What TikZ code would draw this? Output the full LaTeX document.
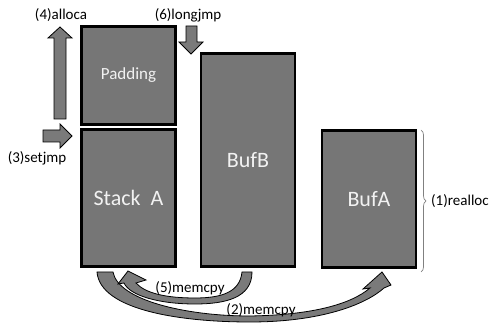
\documentclass[tikz,border=0pt]{standalone}
\usepackage{fontspec}
\setmainfont{Carlito}
\usetikzlibrary{decorations.pathreplacing}
\definecolor{boxgray}{HTML}{767676}
\definecolor{arrgray}{HTML}{7A7A7A}
\definecolor{boxtext}{HTML}{F2F2F2}
\tikzset{
  membox/.style={draw=black, line width=2.4pt, fill=boxgray, text=boxtext, inner sep=0pt, minimum width=94pt},
  blockarrow/.style={draw=black, line width=0.8pt, fill=arrgray, line join=miter},
  lbl/.style={font=\fontsize{15}{17}\selectfont, inner sep=0pt, text=black},
  bigtxt/.style={font=\fontsize{22}{24}\selectfont},
}
\begin{document}
\begin{tikzpicture}[x=1pt,y=-1pt]
\useasboundingbox (0,0) rectangle (499,323);
% memory blocks
\node[membox, minimum height=98pt, font=\fontsize{17}{19}\selectfont] (pad) at (128.5,75.5) {Padding};
\node[membox, minimum height=137pt, bigtxt] (stack) at (128.5,198) {Stack\ \ A};
\node[membox, minimum height=213pt, bigtxt] (bufb) at (248,160) {BufB};
\node[membox, minimum height=137pt, bigtxt] (bufa) at (369,199) {BufA};
% straight block arrows
\draw[blockarrow] (54,119) -- (54,38) -- (48,38) -- (60,27) -- (72,38) -- (66,38) -- (66,119) -- cycle;
\draw[blockarrow] (43,130) -- (60,130) -- (60,124) -- (72,136) -- (60,148) -- (60,142) -- (43,142) -- cycle;
\draw[blockarrow] (186,26) -- (197,26) -- (197,42) -- (203,42) -- (191,54) -- (179,42) -- (186,42) -- cycle;
% curved arrow (2)
\draw[blockarrow] (97,272) .. controls (100,310) and (180,322) .. (250,322)
  .. controls (320,322) and (365,305) .. (384,288) -- (391,285) -- (382,272) -- (363,289) -- (370,288)
  .. controls (350,305) and (310,315) .. (250,316)
  .. controls (185,316) and (118,300) .. (113,272) -- cycle;
% curved arrow (5)
\draw[blockarrow] (252,272) .. controls (252,298) and (225,304) .. (195,304)
  .. controls (160,304) and (130,296) .. (124,283) -- (118,284) -- (128,271) -- (146,280) -- (136,283)
  .. controls (145,293) and (165,298) .. (195,298)
  .. controls (222,298) and (240,292) .. (242,272) -- cycle;
% brace
\coordinate (bt) at (421,130);
\coordinate (bb) at (421,272);
\draw[gray, line width=0.7pt, decorate, decoration={brace, amplitude=5pt}] (bt) -- (bb);
% labels
\node[lbl] (l4) at (61,15) {(4)alloca};
\node[lbl] (l6) at (188,15) {(6)longjmp};
\node[lbl] (l3) at (37,158) {(3)setjmp};
\node[lbl, anchor=west] (l1) at (431,201) {(1)realloc};
\node[lbl] (l5) at (190,288) {(5)memcpy};
\node[lbl] (l2) at (261,310) {(2)memcpy};
\end{tikzpicture}
\end{document}
